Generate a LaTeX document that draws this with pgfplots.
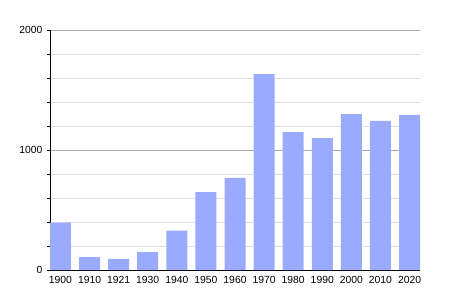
\documentclass[border=0pt]{standalone}
\usepackage{pgfplots}
\pgfplotsset{compat=1.18}
\usepackage{fontspec}
\setmainfont{Liberation Sans}
\definecolor{barblue}{RGB}{153,170,255}
\definecolor{majgrid}{RGB}{170,170,170}
\definecolor{mingrid}{RGB}{222,222,222}
\begin{document}
\begin{tikzpicture}[x=1bp,y=1bp]
\path[use as bounding box] (0,0) rectangle (450,300);
\begin{axis}[
  at={(50bp,30bp)}, anchor=south west,
  scale only axis, width=370bp, height=240bp,
  xmin=-0.36, xmax=12.36, ymin=0, ymax=2000,
  axis x line*=bottom, axis y line*=left,
  axis line style={black, line width=0.8pt},
  xtick=data,
  xticklabels={1900,1910,1921,1930,1940,1950,1960,1970,1980,1990,2000,2010,2020},
  x tick style={draw=none},
  ytick={0,1000,2000},
  minor ytick={200,400,600,800,1200,1400,1600,1800},
  tick align=outside, major tick length=3bp, minor tick length=3bp,
  y tick style={black, line width=0.6pt},
  ymajorgrids, yminorgrids,
  major grid style={majgrid, line width=0.7pt},
  minor grid style={mingrid, line width=0.7pt},
  tick label style={font=\fontsize{10.4}{11}\selectfont},
  /pgf/number format/assume math mode=true,
  /pgf/number format/1000 sep={},
  xticklabel style={yshift=0.5bp},
  yticklabel style={xshift=-1bp},
  ybar, bar width=21bp,
]
\addplot[fill=barblue, draw=none] coordinates {
(0,394) (1,108) (2,92) (3,150) (4,328) (5,650) (6,767) (7,1633) (8,1150) (9,1100) (10,1300) (11,1242) (12,1292)};
\end{axis}
\end{tikzpicture}
\end{document}
